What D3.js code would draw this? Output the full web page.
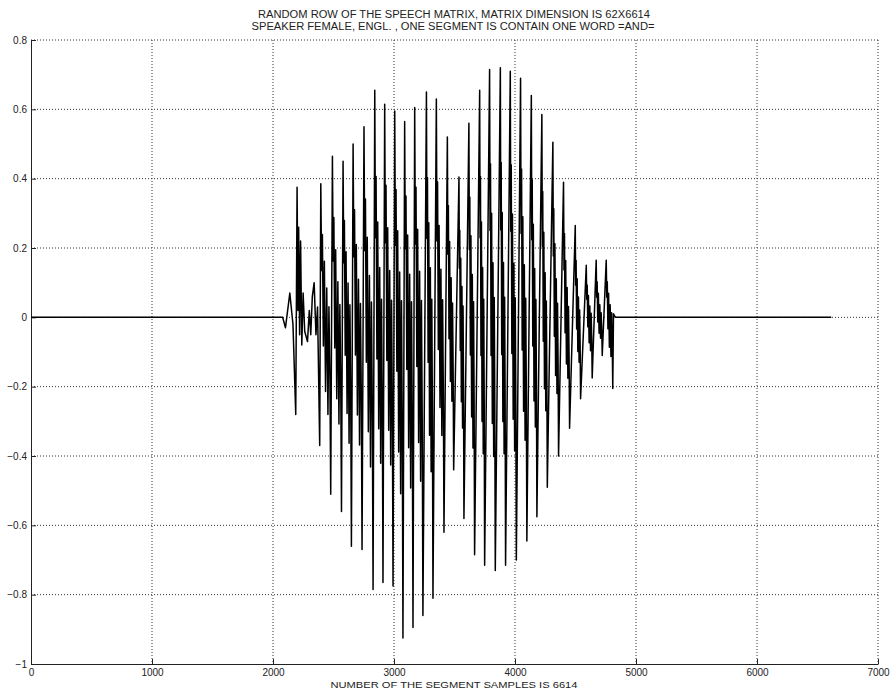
<!DOCTYPE html>
<html>
<head>
<meta charset="utf-8">
<script src="https://cdn.jsdelivr.net/npm/d3@7"></script>
<style>
  body { margin: 0; background: #fff; }
  text { font-family: "Liberation Sans", Arial, sans-serif; fill: #222; }
</style>
</head>
<body>
<svg id="chart" width="890" height="690"></svg>
<script>
// speech waveform: glottal pulses (troughs and peaks)
var onset = [[0, 0], [2080, 0], [2103, -0.03], [2139, 0.07], [2165, -0.02]];
var pulseDown = [[2188, -0.28], [2386, -0.37], [2477, -0.51], [2566, -0.56], [2648, -0.66],
  [2736, -0.67], [2827, -0.785], [2909, -0.765], [2992, -0.775], [3074, -0.925],
  [3157, -0.895], [3239, -0.86], [3322, -0.81], [3413, -0.62], [3493, -0.44],
  [3578, -0.58], [3666, -0.685], [3749, -0.715], [3837, -0.73], [3922, -0.715],
  [4011, -0.70], [4098, -0.645], [4181, -0.575], [4267, -0.49], [4360, -0.40],
  [4451, -0.32], [4542, -0.235], [4638, -0.175], [4721, -0.11], [4808, -0.205]];
var pulseUp = [[2199, 0.375], [2395, 0.385], [2491, 0.465], [2579, 0.45], [2662, 0.50],
  [2752, 0.55], [2841, 0.655], [2923, 0.615], [3006, 0.595], [3088, 0.565],
  [3171, 0.605], [3268, 0.65], [3350, 0.63], [3441, 0.52], [3537, 0.405],
  [3619, 0.56], [3708, 0.655], [3790, 0.715], [3879, 0.72], [3961, 0.71],
  [4046, 0.69], [4135, 0.64], [4222, 0.585], [4313, 0.505], [4401, 0.39],
  [4498, 0.265], [4589, 0.15], [4671, 0.165], [4754, 0.165]];
// irregular wiggles after the first pulse
var wiggles = [[2206, 0.02], [2212, 0.26], [2220, -0.05], [2228, 0.22], [2238, -0.08],
  [2249, 0.07], [2262, -0.04], [2285, -0.07], [2300, 0.02], [2312, -0.05],
  [2325, 0.06], [2340, 0.10], [2355, -0.05], [2368, 0.03]];
var tail = [[4814, 0.01], [4830, 0], [6614, 0]];
// formant ripple after each peak: [share of gap to next trough, share of peak, share of trough]
var ripple = [[0.08, 0.35, 0], [0.16, 0.62, 0], [0.26, 0.05, 0.2], [0.36, 0.42, 0],
  [0.48, 0, 0.42], [0.60, 0.22, 0], [0.72, 0, 0.55], [0.82, 0.08, 0], [0.92, 0, 0.35]];

var xTicks = [0, 1000, 2000, 3000, 4000, 5000, 6000, 7000];
var yTicks = [-1, -0.8, -0.6, -0.4, -0.2, 0, 0.2, 0.4, 0.6, 0.8];
var titleLines = ["RANDOM ROW OF THE SPEECH MATRIX, MATRIX DIMENSION IS 62X6614",
  "SPEAKER FEMALE, ENGL. , ONE SEGMENT IS CONTAIN ONE WORD =AND="];
var xLabel = "NUMBER OF THE SEGMENT SAMPLES IS 6614";

var margin = {left: 31, right: 12, top: 40, bottom: 26},
    width = 890, height = 690;

var svg = d3.select("#chart");

var x = d3.scaleLinear().domain([0, 7000]).range([margin.left, width - margin.right]);
var y = d3.scaleLinear().domain([-1, 0.8]).range([height - margin.bottom, margin.top]);

// grid
svg.append("g").selectAll("line").data(xTicks.slice(1))
  .enter().append("line")
    .attr("x1", function(d) { return x(d); })
    .attr("x2", function(d) { return x(d); })
    .attr("y1", y(0.8))
    .attr("y2", y(-1))
    .attr("stroke", "#333")
    .attr("stroke-dasharray", "1,2");

svg.append("g").selectAll("line").data(yTicks.slice(1))
  .enter().append("line")
    .attr("x1", x(0))
    .attr("x2", x(7000))
    .attr("y1", function(d) { return y(d); })
    .attr("y2", function(d) { return y(d); })
    .attr("stroke", "#333")
    .attr("stroke-dasharray", "1,2");

// axes
var xAxis = d3.axisBottom(x).tickValues(xTicks).tickFormat(d3.format("d")).tickSizeInner(-5).tickSizeOuter(0).tickPadding(6);
var yAxis = d3.axisLeft(y).tickValues(yTicks).tickFormat(function(d) { return d === 0 ? "0" : d3.format("")(d); })
  .tickSizeInner(-5).tickSizeOuter(0).tickPadding(8);

var gx = svg.append("g").attr("transform", "translate(0," + y(-1) + ")").call(xAxis);
var gy = svg.append("g").attr("transform", "translate(" + x(0) + ",0)").call(yAxis);
[gx, gy].forEach(function(g) {
  g.selectAll("path, line").attr("stroke", "#222").attr("stroke-width", 1);
  g.selectAll("text").attr("font-size", 10).attr("fill", "#222")
    .style("font-family", "'Liberation Sans', Arial, sans-serif");
});
gx.selectAll("text").attr("dy", "0.6em");
gy.selectAll("text").attr("x", -4);

// build waveform vertices from the pulses
var pts = onset.slice();
pulseDown.forEach(function(dn, i) {
  pts.push(dn);
  var up = pulseUp[i];
  if (!up) return;
  pts.push(up);
  if (i === 0) {
    wiggles.forEach(function(w) { pts.push(w); });
    return;
  }
  var next = pulseDown[i + 1];
  if (!next) return;
  ripple.forEach(function(r) {
    pts.push([up[0] + r[0] * (next[0] - up[0]), r[1] * up[1] + r[2] * next[1]]);
  });
});
tail.forEach(function(t) { pts.push(t); });

var line = d3.line()
  .x(function(d) { return x(d[0]); })
  .y(function(d) { return y(d[1]); });

svg.append("path")
  .datum(pts)
  .attr("d", line)
  .attr("fill", "none")
  .attr("stroke", "#000")
  .attr("stroke-width", 1.5)
  .attr("stroke-linejoin", "round");

// titles
svg.append("g").selectAll("text").data(titleLines)
  .enter().append("text")
    .attr("x", function(d, i) { return i ? 453 : 454; })
    .attr("y", function(d, i) { return 18 + i * 12; })
    .attr("text-anchor", "middle")
    .attr("font-size", 10)
    .attr("textLength", function(d, i) { return i ? 403 : 392; })
    .attr("lengthAdjust", "spacingAndGlyphs")
    .text(function(d) { return d; });

svg.append("text")
  .attr("x", 454)
  .attr("y", 688)
  .attr("text-anchor", "middle")
  .attr("font-size", 9.5)
  .attr("textLength", 247)
  .attr("lengthAdjust", "spacingAndGlyphs")
  .text(xLabel);
</script>
</body>
</html>
